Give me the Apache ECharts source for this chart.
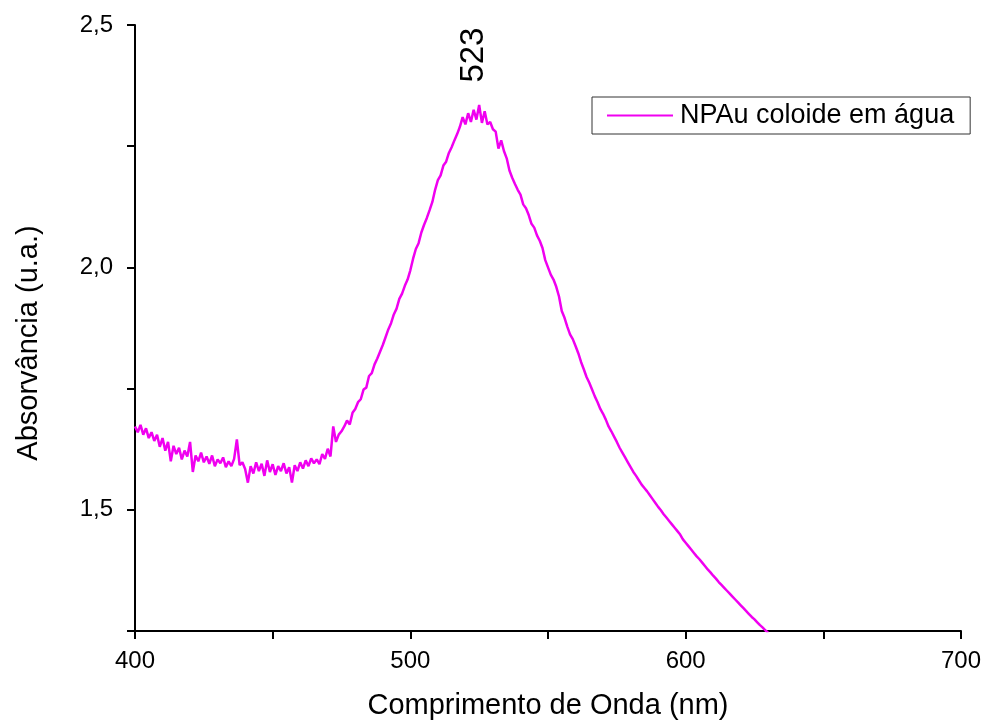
<!DOCTYPE html>
<html>
<head>
<meta charset="utf-8">
<script src="https://cdn.jsdelivr.net/npm/echarts@6/dist/echarts.min.js"></script>
<style>html,body{margin:0;padding:0;background:#fff;}#c{width:1001px;height:725px;}</style>
</head>
<body>
<div id="c"></div>
<script>
// Wavelength grid: 400 nm, 1 nm steps
const wavelengthStart = 400;
const absorbance = [
1.672,1.660,1.675,1.655,1.668,1.648,1.660,1.642,1.655,1.630,
1.648,1.622,1.640,1.600,1.632,1.615,1.628,1.604,1.622,1.610,
1.640,1.578,1.612,1.600,1.618,1.598,1.610,1.595,1.612,1.590,
1.604,1.596,1.608,1.588,1.600,1.590,1.605,1.645,1.592,1.598,
1.584,1.556,1.590,1.575,1.598,1.580,1.595,1.570,1.602,1.578,
1.594,1.572,1.590,1.580,1.596,1.575,1.588,1.556,1.592,1.580,
1.598,1.585,1.602,1.590,1.606,1.596,1.604,1.594,1.615,1.605,
1.626,1.610,1.672,1.640,1.655,1.662,1.672,1.684,1.676,1.700,
1.708,1.722,1.728,1.748,1.752,1.776,1.782,1.800,1.812,1.826,
1.840,1.856,1.872,1.885,1.903,1.915,1.935,1.946,1.962,1.975,
1.994,2.018,2.038,2.050,2.072,2.088,2.102,2.118,2.135,2.160,
2.180,2.190,2.210,2.218,2.236,2.248,2.262,2.275,2.290,2.310,
2.295,2.318,2.300,2.325,2.305,2.335,2.298,2.322,2.295,2.300,
2.285,2.280,2.245,2.262,2.240,2.225,2.200,2.185,2.172,2.160,
2.150,2.130,2.122,2.108,2.090,2.082,2.066,2.055,2.040,2.015,
2.000,1.985,1.975,1.960,1.940,1.910,1.896,1.878,1.862,1.852,
1.838,1.823,1.805,1.790,1.774,1.762,1.748,1.734,1.722,1.708,
1.698,1.686,1.672,1.662,1.651,1.640,1.628,1.618,1.608,1.598,
1.588,1.578,1.570,1.561,1.552,1.545,1.538,1.530,1.522,1.514,
1.506,1.499,1.491,1.484,1.477,1.470,1.463,1.456,1.449,1.439,
1.432,1.425,1.418,1.411,1.404,1.398,1.391,1.384,1.377,1.371,
1.364,1.358,1.351,1.345,1.339,1.333,1.327,1.321,1.315,1.309,
1.303,1.297,1.291,1.285,1.279,1.274,1.268,1.262,1.257,1.251,
1.246
];
const seriesName = 'NPAu coloide em água';
const peakWavelength = 523;
const peakLabelY = 2.438;
const xTitle = 'Comprimento de Onda (nm)';
const yTitle = 'Absorvância (u.a.)';

const points = absorbance.map((v, i) => [wavelengthStart + i, v]);
const FONT = "'Liberation Sans', Arial, sans-serif";
const LINE_COLOR = '#f000f0';
const chart = echarts.init(document.getElementById('c'), null, {renderer: 'canvas'});
chart.setOption({
  backgroundColor: '#fff',
  animation: false,
  textStyle: {fontFamily: FONT, color: '#000'},
  grid: {left: 135, right: 40, top: 25, bottom: 94, containLabel: false},
  legend: {
    left: 592, top: 97,
    padding: [5, 16, 5, 15],
    borderColor: '#333', borderWidth: 1,
    icon: 'rect',
    itemWidth: 66, itemHeight: 2, itemGap: 5,
    itemStyle: {color: LINE_COLOR},
    textStyle: {fontSize: 27, fontFamily: FONT, color: '#000', padding: [0, 0, 0, 2]},
    data: [seriesName]
  },
  xAxis: {
    type: 'value', min: 400, max: 700, interval: 50,
    name: xTitle, nameLocation: 'middle', nameGap: 60,
    nameTextStyle: {fontSize: 29, fontFamily: FONT, color: '#000'},
    axisLine: {lineStyle: {color: '#000', width: 2}},
    axisTick: {inside: false, length: 8, lineStyle: {color: '#000', width: 2}},
    axisLabel: {margin: 18, fontSize: 24, fontFamily: FONT, color: '#000',
      formatter: v => (v % 100 === 0 ? String(v) : '')},
    splitLine: {show: false}
  },
  yAxis: {
    type: 'value', min: 1.25, max: 2.5, interval: 0.25,
    name: yTitle, nameLocation: 'middle', nameGap: 92,
    nameTextStyle: {fontSize: 29, fontFamily: FONT, color: '#000', padding: [0, 30, 0, 0]},
    axisLine: {show: true, lineStyle: {color: '#000', width: 2}},
    axisTick: {show: true, inside: false, length: 8, lineStyle: {color: '#000', width: 2}},
    axisLabel: {margin: 22, fontSize: 24, fontFamily: FONT, color: '#000',
      formatter: v => (Math.abs(v * 2 - Math.round(v * 2)) < 1e-6 ? v.toFixed(1).replace('.', ',') : '')},
    splitLine: {show: false}
  },
  series: [{
    name: seriesName,
    type: 'line',
    data: points,
    symbol: 'none',
    clip: true,
    lineStyle: {color: LINE_COLOR, width: 2.5},
    itemStyle: {color: LINE_COLOR},
    markPoint: {
      symbol: 'circle', symbolSize: 0,
      silent: true,
      data: [{coord: [peakWavelength, peakLabelY], value: peakWavelength}],
      label: {show: true, position: 'inside', rotate: 90, fontSize: 33, fontFamily: FONT, color: '#000',
        formatter: String(peakWavelength)}
    }
  }]
});
</script>
</body>
</html>
